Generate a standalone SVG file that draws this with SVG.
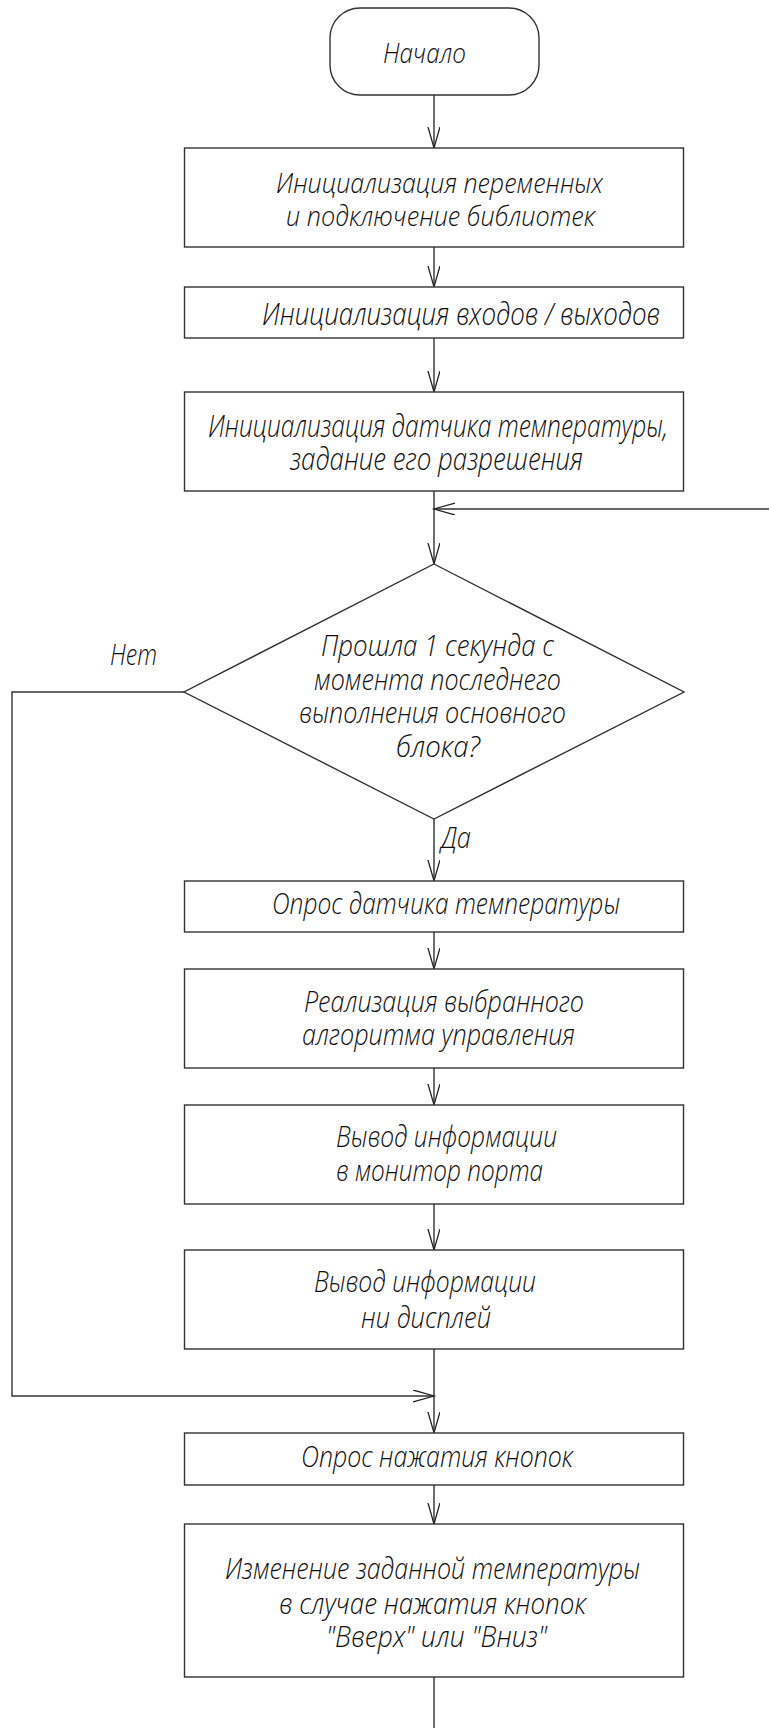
<svg xmlns="http://www.w3.org/2000/svg" width="769" height="1728" viewBox="0 0 769 1728">
<style>
.s{fill:#fff;stroke:#333;stroke-width:1.4}
.c{fill:none;stroke:#333;stroke-width:1.4}
text{font-family:"Open Sans","Liberation Sans",sans-serif;font-weight:300;font-style:italic;fill:#111;font-size:30px}
.sm{font-size:27px}
.lg{font-size:32px}
</style>
<defs>
<marker id="a" markerUnits="userSpaceOnUse" markerWidth="26" markerHeight="16" refX="21" refY="6" orient="auto">
<path d="M0,0 L21,6 L0,12" fill="none" stroke="#222" stroke-width="1.3"/>
</marker>
</defs>
<rect width="769" height="1728" fill="#fff"/>
<g id="connectors">
<line class="c" x1="434" y1="95" x2="434" y2="148" marker-end="url(#a)"/>
<line class="c" x1="434" y1="247" x2="434" y2="287" marker-end="url(#a)"/>
<line class="c" x1="434" y1="338" x2="434" y2="392" marker-end="url(#a)"/>
<line class="c" x1="434" y1="491" x2="434" y2="564" marker-end="url(#a)"/>
<line class="c" x1="769" y1="509" x2="434" y2="509" marker-end="url(#a)"/>
<line class="c" x1="434" y1="819" x2="434" y2="881" marker-end="url(#a)"/>
<line class="c" x1="434" y1="932" x2="434" y2="969" marker-end="url(#a)"/>
<line class="c" x1="434" y1="1068" x2="434" y2="1105" marker-end="url(#a)"/>
<line class="c" x1="434" y1="1204" x2="434" y2="1250" marker-end="url(#a)"/>
<line class="c" x1="434" y1="1349" x2="434" y2="1433" marker-end="url(#a)"/>
<polyline class="c" points="184,692 12,692 12,1396 434,1396" marker-end="url(#a)"/>
<line class="c" x1="434" y1="1485" x2="434" y2="1524" marker-end="url(#a)"/>
<line class="c" x1="434" y1="1677" x2="434" y2="1728"/>
<text x="110" y="665" textLength="47" lengthAdjust="spacingAndGlyphs">Нет</text>
<text x="441" y="848" textLength="30" lengthAdjust="spacingAndGlyphs">Да</text>
</g>
<g id="start">
<rect class="s" x="330" y="8" width="209" height="87" rx="30" ry="30"/>
<text class="sm" x="383" y="63" textLength="83" lengthAdjust="spacingAndGlyphs">Начало</text>
</g>
<g id="init-vars">
<rect class="s" x="184.5" y="148" width="499" height="99"/>
<text class="sm" x="276" y="193" textLength="327" lengthAdjust="spacingAndGlyphs">Инициализация переменных</text>
<text class="sm" x="286" y="226" textLength="309" lengthAdjust="spacingAndGlyphs">и подключение библиотек</text>
</g>
<g id="init-io">
<rect class="s" x="184.5" y="287" width="499" height="51"/>
<text class="lg" x="262" y="325" textLength="398" lengthAdjust="spacingAndGlyphs">Инициализация входов / выходов</text>
</g>
<g id="init-sensor">
<rect class="s" x="184.5" y="392" width="499" height="99"/>
<text class="lg" x="208" y="437" textLength="460" lengthAdjust="spacingAndGlyphs">Инициализация датчика температуры,</text>
<text class="lg" x="290" y="470" textLength="293" lengthAdjust="spacingAndGlyphs">задание его разрешения</text>
</g>
<g id="decision">
<polygon class="s" points="434,564 684,692 434,819 184,692"/>
<text x="321" y="656" textLength="233" lengthAdjust="spacingAndGlyphs">Прошла 1 секунда с</text>
<text x="314" y="690" textLength="247" lengthAdjust="spacingAndGlyphs">момента последнего</text>
<text x="299" y="723" textLength="267" lengthAdjust="spacingAndGlyphs">выполнения основного</text>
<text x="396" y="757" textLength="84" lengthAdjust="spacingAndGlyphs">блока?</text>
</g>
<g id="read-sensor">
<rect class="s" x="184.5" y="881" width="499" height="51"/>
<text x="272" y="914" textLength="348" lengthAdjust="spacingAndGlyphs">Опрос датчика температуры</text>
</g>
<g id="control">
<rect class="s" x="184.5" y="969" width="499" height="99"/>
<text x="304" y="1012" textLength="280" lengthAdjust="spacingAndGlyphs">Реализация выбранного</text>
<text x="302" y="1045" textLength="273" lengthAdjust="spacingAndGlyphs">алгоритма управления</text>
</g>
<g id="serial-out">
<rect class="s" x="184.5" y="1105" width="499" height="99"/>
<text x="336" y="1147" textLength="221" lengthAdjust="spacingAndGlyphs">Вывод информации</text>
<text x="336" y="1181" textLength="207" lengthAdjust="spacingAndGlyphs">в монитор порта</text>
</g>
<g id="display-out">
<rect class="s" x="184.5" y="1250" width="499" height="99"/>
<text x="314" y="1292" textLength="222" lengthAdjust="spacingAndGlyphs">Вывод информации</text>
<text x="361" y="1328" textLength="130" lengthAdjust="spacingAndGlyphs">ни дисплей</text>
</g>
<g id="read-buttons">
<rect class="s" x="184.5" y="1433" width="499" height="52"/>
<text x="301" y="1467" textLength="272" lengthAdjust="spacingAndGlyphs">Опрос нажатия кнопок</text>
</g>
<g id="change-temp">
<rect class="s" x="184.5" y="1524" width="499" height="153"/>
<text x="225" y="1579" textLength="415" lengthAdjust="spacingAndGlyphs">Изменение заданной температуры</text>
<text x="279" y="1614" textLength="307" lengthAdjust="spacingAndGlyphs">в случае нажатия кнопок</text>
<text x="326" y="1647" textLength="221" lengthAdjust="spacingAndGlyphs">"Вверх" или "Вниз"</text>
</g>
</svg>
